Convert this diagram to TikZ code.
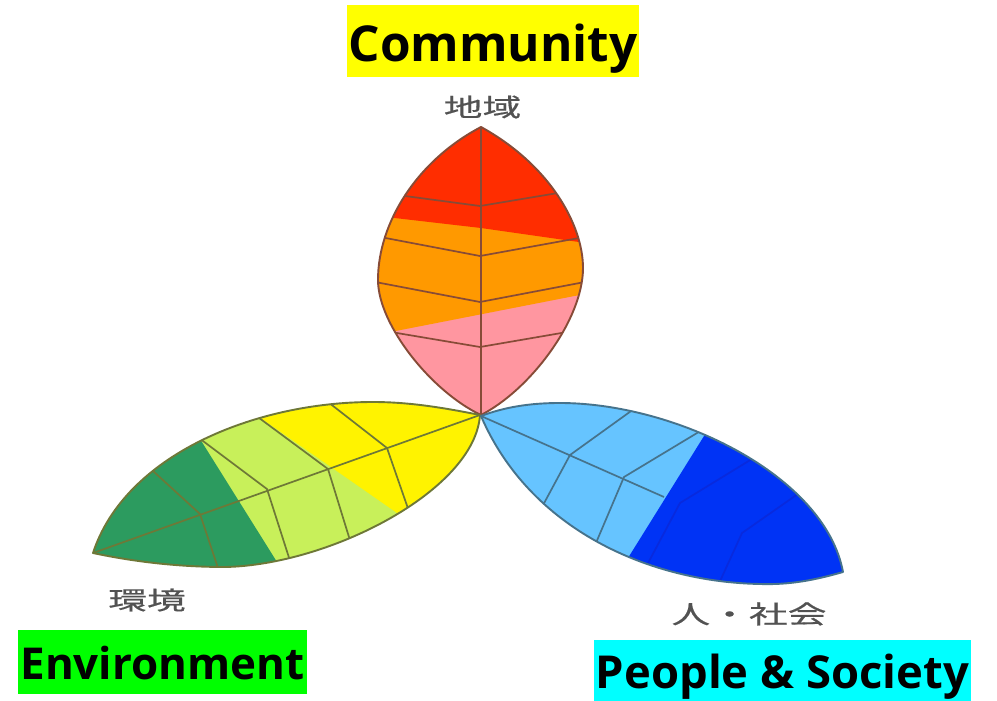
\documentclass[tikz,border=0pt]{standalone}
\usepackage{fontspec}
\usepackage{graphicx}
\setmainfont{DejaVu Sans}
\newfontfamily\headfont{Open Sans}[UprightFont={* Bold},BoldFont={* Bold}]
\newfontfamily\cjk[FakeBold=0.4]{Noto Sans CJK JP}
\definecolor{cred}{RGB}{255,45,0}
\definecolor{corange}{RGB}{255,153,0}
\definecolor{cpink}{RGB}{255,150,160}
\definecolor{cdgreen}{RGB}{44,155,95}
\definecolor{clgreen}{RGB}{200,240,90}
\definecolor{cyel}{RGB}{255,243,0}
\definecolor{clblue}{RGB}{102,196,255}
\definecolor{cdblue}{RGB}{0,51,245}
\definecolor{cvdblue}{RGB}{8,42,222}
\definecolor{boxyellow}{RGB}{255,255,0}
\definecolor{boxgreen}{RGB}{0,255,0}
\definecolor{boxcyan}{RGB}{0,255,255}
\definecolor{edgetop}{RGB}{135,75,55}
\definecolor{edgeleft}{RGB}{110,120,55}
\definecolor{edgeright}{RGB}{70,115,140}
\tikzset{
  outlinepath/.style={line width=1.9pt,line join=round},
  vein/.style={line width=1.7pt,line join=round},
  veinblue/.style={draw=cvdblue,line width=1.7pt,line join=round},
  tag/.style={inner sep=0pt,text=black,text depth=0pt,font=\headfont\fontsize{40}{44}\selectfont},
  jplabel/.style={text=black!68,inner sep=0pt,font=\cjk\fontsize{25}{28}\selectfont}
}
\def\topleaf{(481,127) .. controls (418,160) and (378,222) .. (378,280) .. controls (378,325) and (432,392) .. (481,415) .. controls (530,390) and (583,320) .. (583,268) .. controls (583,225) and (550,165) .. (481,127) -- cycle}
\def\leftleaf{(93,553) .. controls (125,455) and (255,402) .. (373,402) .. controls (410,402) and (445,408) .. (480,415) .. controls (475,490) and (330,565) .. (225,567) .. controls (180,567) and (135,562) .. (93,553) -- cycle}
\def\rightleaf{(481,416) .. controls (505,407) and (530,403) .. (560,403) .. controls (675,403) and (825,475) .. (843,572) .. controls (815,580) and (790,585) .. (760,584) .. controls (650,582) and (530,530) .. (481,416) -- cycle}
\begin{document}
\begin{tikzpicture}[x=1pt,y=-1pt]
\useasboundingbox (0,0) rectangle (997,701);
\fill[white] (0,0) rectangle (997,701);
% top leaf
\begin{scope}
  \clip \topleaf;
  \fill[cpink] (360,120) rectangle (600,420);
  \fill[corange] (360,120) -- (600,120) -- (600,291) -- (360,338) -- cycle;
  \fill[cred] (360,120) -- (600,120) -- (600,245) -- (481,228) -- (360,214) -- cycle;
  \draw[vein,edgetop] (390,194) -- (480,206) -- (570,191);
  \draw[vein,edgetop] (375,236) -- (480,256) -- (590,236);
  \draw[vein,edgetop] (370,281) -- (480,302) -- (590,281);
  \draw[vein,edgetop] (385,331) -- (480,347) -- (573,331);
  \draw[vein,edgetop] (481,127) -- (481,415);
\end{scope}
\draw[outlinepath,edgetop] \topleaf;
% left leaf
\begin{scope}
  \clip \leftleaf;
  \fill[clgreen] (80,395) rectangle (490,575);
  \fill[cyel] (262,395) -- (490,395) -- (490,575) -- (420,529) -- (262,419) -- cycle;
  \fill[cdgreen] (80,395) -- (180,395) -- (200,439) -- (277,562) -- (280,575) -- (80,575) -- cycle;
  \draw[vein,edgeleft] (141,460) -- (200,514) -- (222,580);
  \draw[vein,edgeleft] (187,429) -- (267,489) -- (292,567);
  \draw[vein,edgeleft] (247,409) -- (328,469) -- (353,550);
  \draw[vein,edgeleft] (319,395) -- (387,448) -- (412,520);
  \draw[vein,edgeleft] (93,553) -- (480,415);
\end{scope}
\draw[outlinepath,edgeleft] \leftleaf;
% right leaf
\begin{scope}
  \clip \rightleaf;
  \fill[clblue] (470,395) rectangle (850,590);
  \fill[cdblue] (714,420) -- (850,420) -- (850,590) -- (620,590) -- (628,558) -- cycle;
  \draw[veinblue] (765,451) -- (680,503) -- (647,565);
  \draw[veinblue] (805,489) -- (742,533) -- (716,590);
  \draw[vein,edgeright] (645,401) -- (570,455) -- (535,520);
  \draw[vein,edgeright] (717,421) -- (624,477) -- (590,557);
  \draw[vein,edgeright] (481,416) -- (664,497);
\end{scope}
\draw[outlinepath,edgeright] \rightleaf;
% labels
\node[fill=boxyellow,minimum width=292pt,minimum height=72pt,tag,text height=42pt] (community) at (493,41) {\resizebox{289pt}{!}{Community}};
\node[fill=boxgreen,minimum width=289pt,minimum height=64pt,tag,text height=34pt] (environment) at (162.5,662) {\resizebox{284pt}{!}{Environment}};
\node[fill=boxcyan,minimum width=377pt,minimum height=61pt,tag,text height=35pt] (people) at (782.5,670.5) {\resizebox{373pt}{!}{People \& Society}};
\node[jplabel] (jtop) at (482.5,107) {\scalebox{1.55}[1]{地域}};
\node[jplabel] (jleft) at (147,600) {\scalebox{1.55}[1]{環境}};
\node[jplabel] (jright) at (749,614) {\scalebox{1.55}[1]{人・社会}};
\end{tikzpicture}
\end{document}
